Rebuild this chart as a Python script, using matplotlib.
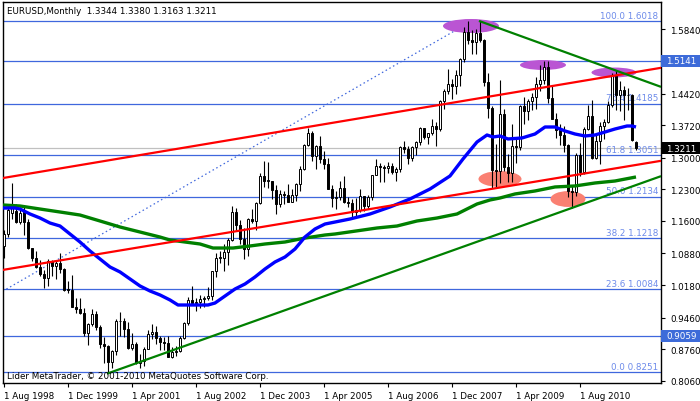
import matplotlib
matplotlib.use("Agg")
import matplotlib.pyplot as plt
from matplotlib.patches import Ellipse, Rectangle
from matplotlib.transforms import blended_transform_factory
import numpy as np

plt.rcParams['font.family'] = ['DejaVu Sans']

# ---------------- data ----------------
start_year, start_month = 1998, 8
opens = [1.1050,1.1320,1.1780,1.1830,1.1580,
 1.1789,1.1575,1.0998,1.0770,1.0584,1.0428,1.0333,1.0704,1.0593,1.0675,1.0537,1.0080,
 1.0070,0.9703,0.9655,0.9555,0.9121,0.9330,0.9534,0.9245,0.8870,0.8827,0.8478,0.8721,
 0.9390,0.9380,0.9198,0.8790,0.8885,0.8466,0.8497,0.8771,0.9105,0.9138,0.9011,0.8912,
 0.8902,0.8599,0.8697,0.8729,0.9018,0.9332,0.9857,0.9776,0.9811,0.9862,0.9890,0.9930,
 1.0490,1.0780,1.0780,1.0910,1.1180,1.1800,1.1500,1.1200,1.0990,1.1650,1.1600,1.1990,
 1.2590,1.2480,1.2480,1.2290,1.1970,1.2200,1.2170,1.2020,1.2170,1.2410,1.2760,1.3280,
 1.3550,1.3030,1.3250,1.2960,1.2870,1.2300,1.2100,1.2120,1.2340,1.2020,1.1990,1.1790,
 1.1840,1.2160,1.1920,1.2120,1.2620,1.2810,1.2790,1.2770,1.2810,1.2680,1.2760,1.3240,
 1.3200,1.2990,1.3230,1.3350,1.3650,1.3450,1.3540,1.3690,1.3630,1.4260,1.4480,1.4630,
 1.4590,1.4830,1.5180,1.5790,1.5600,1.5550,1.5750,1.5610,1.4680,1.4100,1.2730,1.2700,
 1.3970,1.2800,1.2670,1.3250,1.3240,1.4150,1.4030,1.4250,1.4340,1.4630,1.4720,1.5000,
 1.4320,1.3860,1.3620,1.3510,1.3290,1.2270,1.2230,1.3050,1.2680,1.3630,1.3930,1.2990,
 1.3380,1.3690,1.3800,1.4160,1.4810,1.4390,1.4500,1.4390,1.4380,1.3344]
highs = [1.1400,1.1900,1.2430,1.1980,1.1900,
 1.1907,1.1640,1.1010,1.0930,1.0730,1.0515,1.0754,1.0744,1.0727,1.0882,1.0554,1.0282,
 1.0414,0.9890,0.9890,0.9670,0.9337,0.9654,0.9600,0.9300,0.9040,0.8850,0.8750,0.9430,
 0.9596,0.9450,0.9360,0.9120,0.8930,0.8650,0.8800,0.9190,0.9320,0.9270,0.9060,0.9030,
 0.9050,0.8800,0.8840,0.9050,0.9370,0.9910,1.0168,0.9900,0.9960,0.9940,1.0140,1.0500,
 1.0880,1.0940,1.1080,1.1230,1.1933,1.1880,1.1620,1.1450,1.1660,1.1870,1.2010,1.2650,
 1.2927,1.2900,1.2490,1.2390,1.2280,1.2270,1.2420,1.2310,1.2440,1.2810,1.3310,1.3667,
 1.3590,1.3270,1.3480,1.3140,1.2990,1.2400,1.2260,1.2480,1.2590,1.2140,1.2080,1.2100,
 1.2310,1.2160,1.2180,1.2620,1.2979,1.2880,1.2830,1.2910,1.2890,1.2790,1.3250,1.3370,
 1.3260,1.3250,1.3380,1.3680,1.3660,1.3550,1.3850,1.3800,1.4280,1.4530,1.4966,1.4750,
 1.4950,1.5200,1.5900,1.6018,1.5820,1.5840,1.6018,1.5620,1.4870,1.4150,1.3300,1.4720,
 1.4080,1.3080,1.3740,1.3440,1.4160,1.4340,1.4300,1.4440,1.4790,1.5060,1.5144,1.5140,
 1.4580,1.3980,1.3740,1.3690,1.3300,1.2390,1.3100,1.3330,1.3680,1.4160,1.4280,1.3500,
 1.3800,1.3860,1.4250,1.4880,1.4940,1.4700,1.4580,1.4550,1.4410,1.3380]
lows = [1.0780,1.1250,1.1650,1.1560,1.1540,
 1.1296,1.0969,1.0708,1.0555,1.0375,1.0107,1.0168,1.0372,1.0313,1.0446,1.0045,0.9997,
 0.9690,0.9560,0.9530,0.9046,0.8844,0.9280,0.9180,0.8783,0.8455,0.8228,0.8350,0.8640,
 0.9050,0.9030,0.8770,0.8750,0.8440,0.8348,0.8400,0.8760,0.8980,0.8880,0.8750,0.8750,
 0.8590,0.8565,0.8620,0.8700,0.8980,0.9300,0.9730,0.9600,0.9680,0.9690,0.9860,0.9860,
 1.0360,1.0680,1.0500,1.0620,1.1160,1.1400,1.1100,1.0762,1.0830,1.1550,1.1400,1.1970,
 1.2360,1.2330,1.2080,1.1760,1.1900,1.1970,1.2020,1.2020,1.2040,1.2260,1.2730,1.3250,
 1.2930,1.2750,1.2890,1.2750,1.2300,1.1910,1.1870,1.2060,1.2000,1.1900,1.1640,1.1710,
 1.1800,1.1830,1.1860,1.2060,1.2620,1.2460,1.2460,1.2660,1.2640,1.2480,1.2690,1.3100,
 1.2870,1.2930,1.3070,1.3280,1.3410,1.3300,1.3510,1.3260,1.3590,1.4080,1.4400,1.4300,
 1.4400,1.4580,1.5120,1.5520,1.5290,1.5290,1.5550,1.4580,1.3880,1.2330,1.2330,1.2450,
 1.2700,1.2456,1.2460,1.2890,1.3170,1.3740,1.3830,1.4050,1.4080,1.4480,1.4640,1.4220,
 1.3860,1.3440,1.3280,1.3120,1.2140,1.1876,1.2150,1.2590,1.2640,1.3620,1.2970,1.2970,
 1.2870,1.3420,1.3760,1.4120,1.4050,1.4030,1.3840,1.4050,1.3360,1.3163]
closes = [1.1320,1.1850,1.1890,1.1580,1.1780,
 1.1575,1.0998,1.0770,1.0584,1.0428,1.0333,1.0704,1.0593,1.0675,1.0537,1.0080,1.0070,
 0.9703,0.9655,0.9555,0.9121,0.9330,0.9534,0.9245,0.8870,0.8827,0.8478,0.8721,0.9390,
 0.9380,0.9198,0.8790,0.8885,0.8466,0.8497,0.8771,0.9105,0.9138,0.9011,0.8912,0.8902,
 0.8599,0.8697,0.8729,0.9018,0.9332,0.9857,0.9776,0.9811,0.9862,0.9890,0.9930,1.0490,
 1.0780,1.0780,1.0910,1.1180,1.1800,1.1500,1.1200,1.0990,1.1650,1.1600,1.1990,1.2590,
 1.2480,1.2480,1.2290,1.1970,1.2200,1.2170,1.2020,1.2170,1.2410,1.2760,1.3280,1.3550,
 1.3030,1.3250,1.2960,1.2870,1.2300,1.2100,1.2120,1.2340,1.2020,1.1990,1.1790,1.1840,
 1.2160,1.1920,1.2120,1.2620,1.2810,1.2790,1.2770,1.2810,1.2680,1.2760,1.3240,1.3200,
 1.2990,1.3230,1.3350,1.3650,1.3450,1.3540,1.3690,1.3630,1.4260,1.4480,1.4630,1.4590,
 1.4830,1.5180,1.5790,1.5600,1.5550,1.5750,1.5610,1.4680,1.4100,1.2730,1.2700,1.3970,
 1.2800,1.2670,1.3250,1.3240,1.4150,1.4030,1.4250,1.4340,1.4630,1.4720,1.5000,1.4320,
 1.3860,1.3620,1.3510,1.3290,1.2270,1.2230,1.3050,1.2680,1.3630,1.3930,1.2990,1.3380,
 1.3690,1.3800,1.4160,1.4810,1.4390,1.4500,1.4390,1.4380,1.3390,1.3211]

# moving averages (bar index, price)
blue_ma_x = [-0.25,2.75,4,6.5,9,11.5,14,16.5,19,21.5,24,26.5,29,31.5,34,36.5,39,41.5,43.5,46.5,51,
             52.75,55.25,57.75,60.25,62.75,65.25,67.75,70.25,72.75,75.25,77.75,80.25,82.75,86.5,
             91.5,96.5,101.5,106.5,111.5,114.75,118.25,120.75,122.25,124,126,129.5,132.75,135.25,
             137.75,140.25,142.75,145.25,147.75,150.25,152.75,155.75,157,158]
blue_ma_y = [1.1886,1.1886,1.1864,1.1754,1.1665,1.1554,1.1488,1.1311,1.1134,1.0935,1.0758,1.0581,
             1.0471,1.0316,1.0161,1.0050,0.9962,0.9851,0.9740,0.9740,0.9740,0.9784,0.9939,1.0094,
             1.0205,1.0360,1.0537,1.0692,1.0802,1.0979,1.1245,1.1422,1.1532,1.1576,1.1643,1.1754,
             1.1909,1.2086,1.2307,1.2595,1.2971,1.3347,1.3502,1.3458,1.3480,1.3414,1.3436,1.3524,
             1.3679,1.3679,1.3591,1.3524,1.3480,1.3502,1.3568,1.3635,1.3701,1.3701,1.3679]
green_ma_x = [-0.25,4,9,14,19,24,29,34,39,41.5,49,52.25,57.25,61.5,65.25,70.25,75.25,80.25,82.75,
              93.25,98.25,103.25,108.25,113.25,118.25,121.5,124,127.75,132.75,137.75,142.75,
              147.75,152.75,158]
green_ma_y = [1.1953,1.1931,1.1864,1.1798,1.1731,1.1599,1.1466,1.1355,1.1244,1.1178,1.1090,1.1001,
              1.1001,1.1046,1.1090,1.1134,1.1222,1.1289,1.1311,1.1444,1.1488,1.1599,1.1665,1.1754,
              1.1975,1.2064,1.2108,1.2197,1.2263,1.2352,1.2374,1.2440,1.2484,1.2573]

fib_pcts = ["100.0", "76.4", "61.8", "50.0", "38.2", "23.6", "0.0"]
fib_levels = [1.6018, 1.4185, 1.3051, 1.2134, 1.1218, 1.0084, 0.8251]
fib_trend_x = [-35.5, 116.8]
fib_trend_y = [0.8251, 1.6018]
hlines = [1.5141, 0.9059]
bid = 1.3211

red_upper = ([-0.25, 164.0], [1.2550, 1.4985])
red_lower = ([-0.25, 164.0], [1.0517, 1.2927])
green_up = ([26.0, 164.0], [0.8228, 1.2583])
green_down = ([119.0, 164.0], [1.6018, 1.4575])

# ellipses: (center index, center price, width months, height price)
purple_ell = [(116.75, 1.5914, 14.0, 0.031), (134.75, 1.5051, 11.5, 0.022), (152.5, 1.4885, 11.25, 0.022)]
salmon_ell = [(124.0, 1.2528, 10.75, 0.035), (141.0, 1.2085, 8.75, 0.035)]

ytick_vals = [1.5840, 1.4420, 1.3720, 1.3000, 1.2300, 1.1600, 1.0880, 1.0180, 0.9460, 0.8760, 0.8060]
xtick_idx = [0, 16, 32, 48, 64, 80, 96, 112, 128, 144]
xtick_labels = ["1 Aug 1998", "1 Dec 1999", "1 Apr 2001", "1 Aug 2002", "1 Dec 2003",
                "1 Apr 2005", "1 Aug 2006", "1 Dec 2007", "1 Apr 2009", "1 Aug 2010"]
title_text = "EURUSD,Monthly  1.3344 1.3380 1.3163 1.3211"
copyright_text = "Lider MetaTrader, \u00a9 2001-2010 MetaQuotes Software Corp."

# ---------------- figure ----------------
W, H = 700, 402
fig = plt.figure(figsize=(W / 100, H / 100), dpi=100)
fig.patch.set_facecolor('white')
ax = fig.add_axes([2.5 / W, 1 - 383.5 / H, 658 / W, 381 / H])
ax.set_xlim(-0.375, 164.125)
ax.set_ylim(0.8025, 1.6456)

FS = 6.3
LINEBLUE = '#3F67DD'
LABELBLUE = '#6D8BEA'

idx = np.arange(len(opens))
o = np.array(opens); h = np.array(highs); l = np.array(lows); c = np.array(closes)

# fib horizontal levels
for pct, lev in zip(fib_pcts, fib_levels):
    ax.axhline(lev, color=LINEBLUE, lw=0.9, zorder=1)
    ax.annotate(f"{pct} {lev:.4f}", xy=(0.9965, lev), xycoords=('axes fraction', 'data'),
                xytext=(0, 1.2), textcoords='offset points', ha='right', va='bottom',
                fontsize=FS, color=LABELBLUE, zorder=2)
for hv in hlines:
    ax.axhline(hv, color=LINEBLUE, lw=0.9, zorder=1)
ax.axhline(bid, color='#C0C0C0', lw=0.9, zorder=1)
ax.plot(fib_trend_x, fib_trend_y, color=LINEBLUE, lw=0.9, ls=(0, (1.2, 2.2)), zorder=1.5)

for cx, cy, w, hh in purple_ell:
    ax.add_patch(Ellipse((cx, cy), w, hh, facecolor='#BA55D3', edgecolor='none', zorder=1.6))
for cx, cy, w, hh in salmon_ell:
    ax.add_patch(Ellipse((cx, cy), w, hh, facecolor='#FA8072', edgecolor='none', zorder=1.6))

# candles
ax.vlines(idx, l, h, color='black', lw=0.8, zorder=3)
bull = c >= o
body_bottom = np.minimum(o, c)
body_h = np.maximum(np.abs(c - o), 0.0015)
ax.bar(idx, body_h, bottom=body_bottom, width=0.5,
       color=np.where(bull, 'white', 'black'), edgecolor='black', linewidth=0.7, zorder=3.2)

# moving averages
ax.plot(green_ma_x, green_ma_y, color='#008000', lw=2.4, zorder=4, solid_capstyle='butt')
ax.plot(blue_ma_x, blue_ma_y, color='#0000FF', lw=2.4, zorder=4.1, solid_capstyle='butt')

# trend lines
for (xs, ys), col in [(red_upper, '#FF0000'), (red_lower, '#FF0000'),
                      (green_up, '#008000'), (green_down, '#008000')]:
    ax.plot(xs, ys, color=col, lw=1.6, zorder=5)

# axes styling
for sp in ax.spines.values():
    sp.set_color('black'); sp.set_linewidth(1.0)
ax.yaxis.tick_right()
ax.set_yticks(ytick_vals)
ax.set_yticklabels([f"{v:.4f}" for v in ytick_vals])
ax.tick_params(axis='y', direction='out', length=3, width=0.8, pad=4, labelsize=FS, colors='black')
ax.set_xticks(xtick_idx)
ax.set_xticklabels(xtick_labels)
ax.tick_params(axis='x', direction='out', length=3, width=0.8, pad=3, labelsize=FS, colors='black')
for lbl in ax.get_xticklabels():
    lbl.set_ha('left')
    lbl.set_x(0)

# highlighted price labels on the axis
trans = blended_transform_factory(fig.transFigure, ax.transData)
box_h = 12 / 451.9
for val, bg in [(hlines[0], '#3D6BD9'), (hlines[1], '#3D6BD9'), (bid, 'black')]:
    fig.add_artist(Rectangle((661 / W, val - box_h / 2), 39 / W, box_h, transform=trans,
                             facecolor=bg, edgecolor='none', zorder=10))
    fig.text(666 / W, val, f"{val:.4f}", transform=trans, ha='left', va='center',
             fontsize=FS, color='white', zorder=11)
    ax.plot([1.0, 1.0 + 3 / 658], [val, val], transform=blended_transform_factory(ax.transAxes, ax.transData),
            color='black', lw=0.8, clip_on=False, zorder=6)

ax.text(4.5 / 658, 1 - (11 - 2.5) / 381, title_text, transform=ax.transAxes,
        ha='left', va='center', fontsize=FS, color='black', zorder=12)
ax.text(4.5 / 658, (383.5 - 376.5) / 381, copyright_text, transform=ax.transAxes,
        ha='left', va='center', fontsize=FS, color='black', zorder=12)

fig.savefig('out.png', dpi=100, facecolor='white')
